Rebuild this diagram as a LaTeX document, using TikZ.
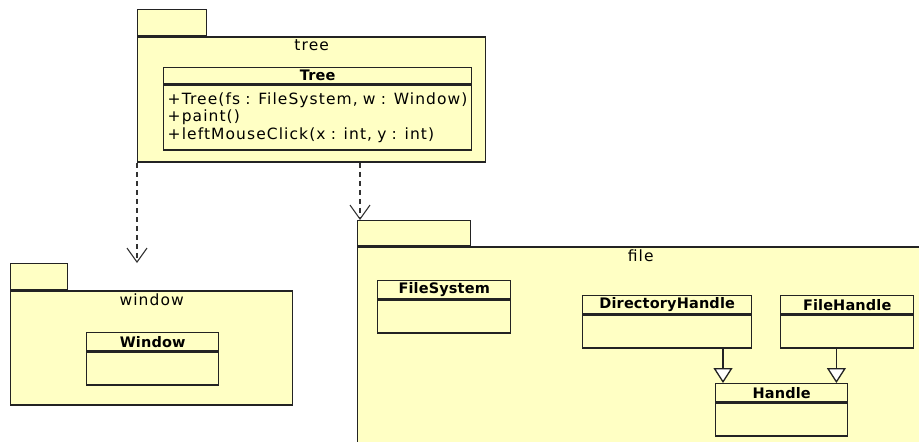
\documentclass[tikz,border=0pt]{standalone}
\usepackage{fontspec}
\setmainfont{DejaVu Sans}[LetterSpace=7, BoldFeatures={LetterSpace=1}]
\usetikzlibrary{positioning,arrows.meta}
\definecolor{pkgfill}{RGB}{255,255,196}
\definecolor{umlline}{RGB}{35,35,35}
\definecolor{depline}{RGB}{50,50,50}

\tikzset{
  pkg/.style={draw=umlline, fill=pkgfill, line width=1.4pt, inner sep=0pt, anchor=north west},
  pkglabel/.style={inner sep=0pt},
  chead/.style={draw=umlline, fill=pkgfill, line width=1.4pt, inner sep=0pt, anchor=north west,
    minimum height=18pt, font=\fontsize{14.5}{17.5}\selectfont\bfseries},
  cbody/.style={draw=umlline, fill=pkgfill, line width=1.4pt, inner sep=0pt, minimum height=33pt},
  dep/.style={draw=depline, line width=1.1pt, dash pattern=on 5pt off 4pt,
    -{Straight Barb[length=14pt, width=20pt, line width=1.1pt]}},
  gen/.style={draw=umlline, line width=1.3pt,
    -{Triangle[length=15pt, width=19pt, fill=white, line width=1.3pt]}}
}

\begin{document}
\begin{tikzpicture}[x=1pt, y=-1pt, font=\fontsize{15.5}{17.5}\selectfont]
  \useasboundingbox (0,0) rectangle (919,442);
  \clip (0,0) rectangle (919,442);
  % Packages
  \node[pkg, minimum width=69pt, minimum height=26pt] (treeT) at (137,9) {};
  \node[pkg, minimum width=348pt, minimum height=125pt, below=0pt of treeT.south west, anchor=north west] (treeP) {};
  \node[pkglabel] (treeL) at ([yshift=-9pt]treeP.north) {tree};

  \node[pkg, minimum width=57pt, minimum height=26pt] (winT) at (10,263) {};
  \node[pkg, minimum width=282pt, minimum height=114pt, below=0pt of winT.south west, anchor=north west] (winP) {};
  \node[pkglabel] (winL) at ([yshift=-9pt]winP.north) {window};

  \node[pkg, minimum width=113pt, minimum height=25pt] (fileT) at (357,220) {};
  \node[pkg, minimum width=566pt, minimum height=220pt, below=0pt of fileT.south west, anchor=north west] (fileP) {};
  \node[pkglabel] (fileL) at ([yshift=-9pt]fileP.north) {file};

  % Classes
  \node[chead, minimum width=308pt, minimum height=16pt] (treeH) at (163,67) {Tree};
  \node[cbody, minimum width=308pt, minimum height=65pt, text width=300pt, align=left, below=0pt of treeH] (treeB)
    {+Tree(fs : FileSystem, w : Window)\\+paint()\\+leftMouseClick(x : int, y : int)};

  \node[chead, minimum width=132pt] (windowH) at (86,332) {Window};
  \node[cbody, minimum width=132pt, below=0pt of windowH] (windowB) {};

  \node[chead, minimum width=133pt] (fsH) at (377,280) {FileSystem};
  \node[cbody, minimum width=133pt, below=0pt of fsH] (fsB) {};

  \node[chead, minimum width=169pt] (dirH) at (582,295) {DirectoryHandle};
  \node[cbody, minimum width=169pt, below=0pt of dirH] (dirB) {};

  \node[chead, minimum width=133pt] (fhH) at (780,295) {FileHandle};
  \node[cbody, minimum width=133pt, below=0pt of fhH] (fhB) {};

  \node[chead, minimum width=132pt] (handleH) at (715,383) {Handle};
  \node[cbody, minimum width=132pt, below=0pt of handleH] (handleB) {};

  % Dependencies
  \coordinate (fileIn) at ([xshift=3pt]fileT.north west);
  \draw[dep] (treeP.south west) -- (treeP.south west |- winT.north);
  \draw[dep] (treeP.south -| fileIn) -- (fileIn);

  % Generalizations
  \coordinate (hDir) at ([xshift=8pt]handleH.north west);
  \coordinate (hFile) at ([xshift=-12pt]handleH.north east);
  \draw[gen] (dirB.south -| hDir) -- (hDir);
  \draw[gen] (fhB.south -| hFile) -- (hFile);
\end{tikzpicture}
\end{document}
